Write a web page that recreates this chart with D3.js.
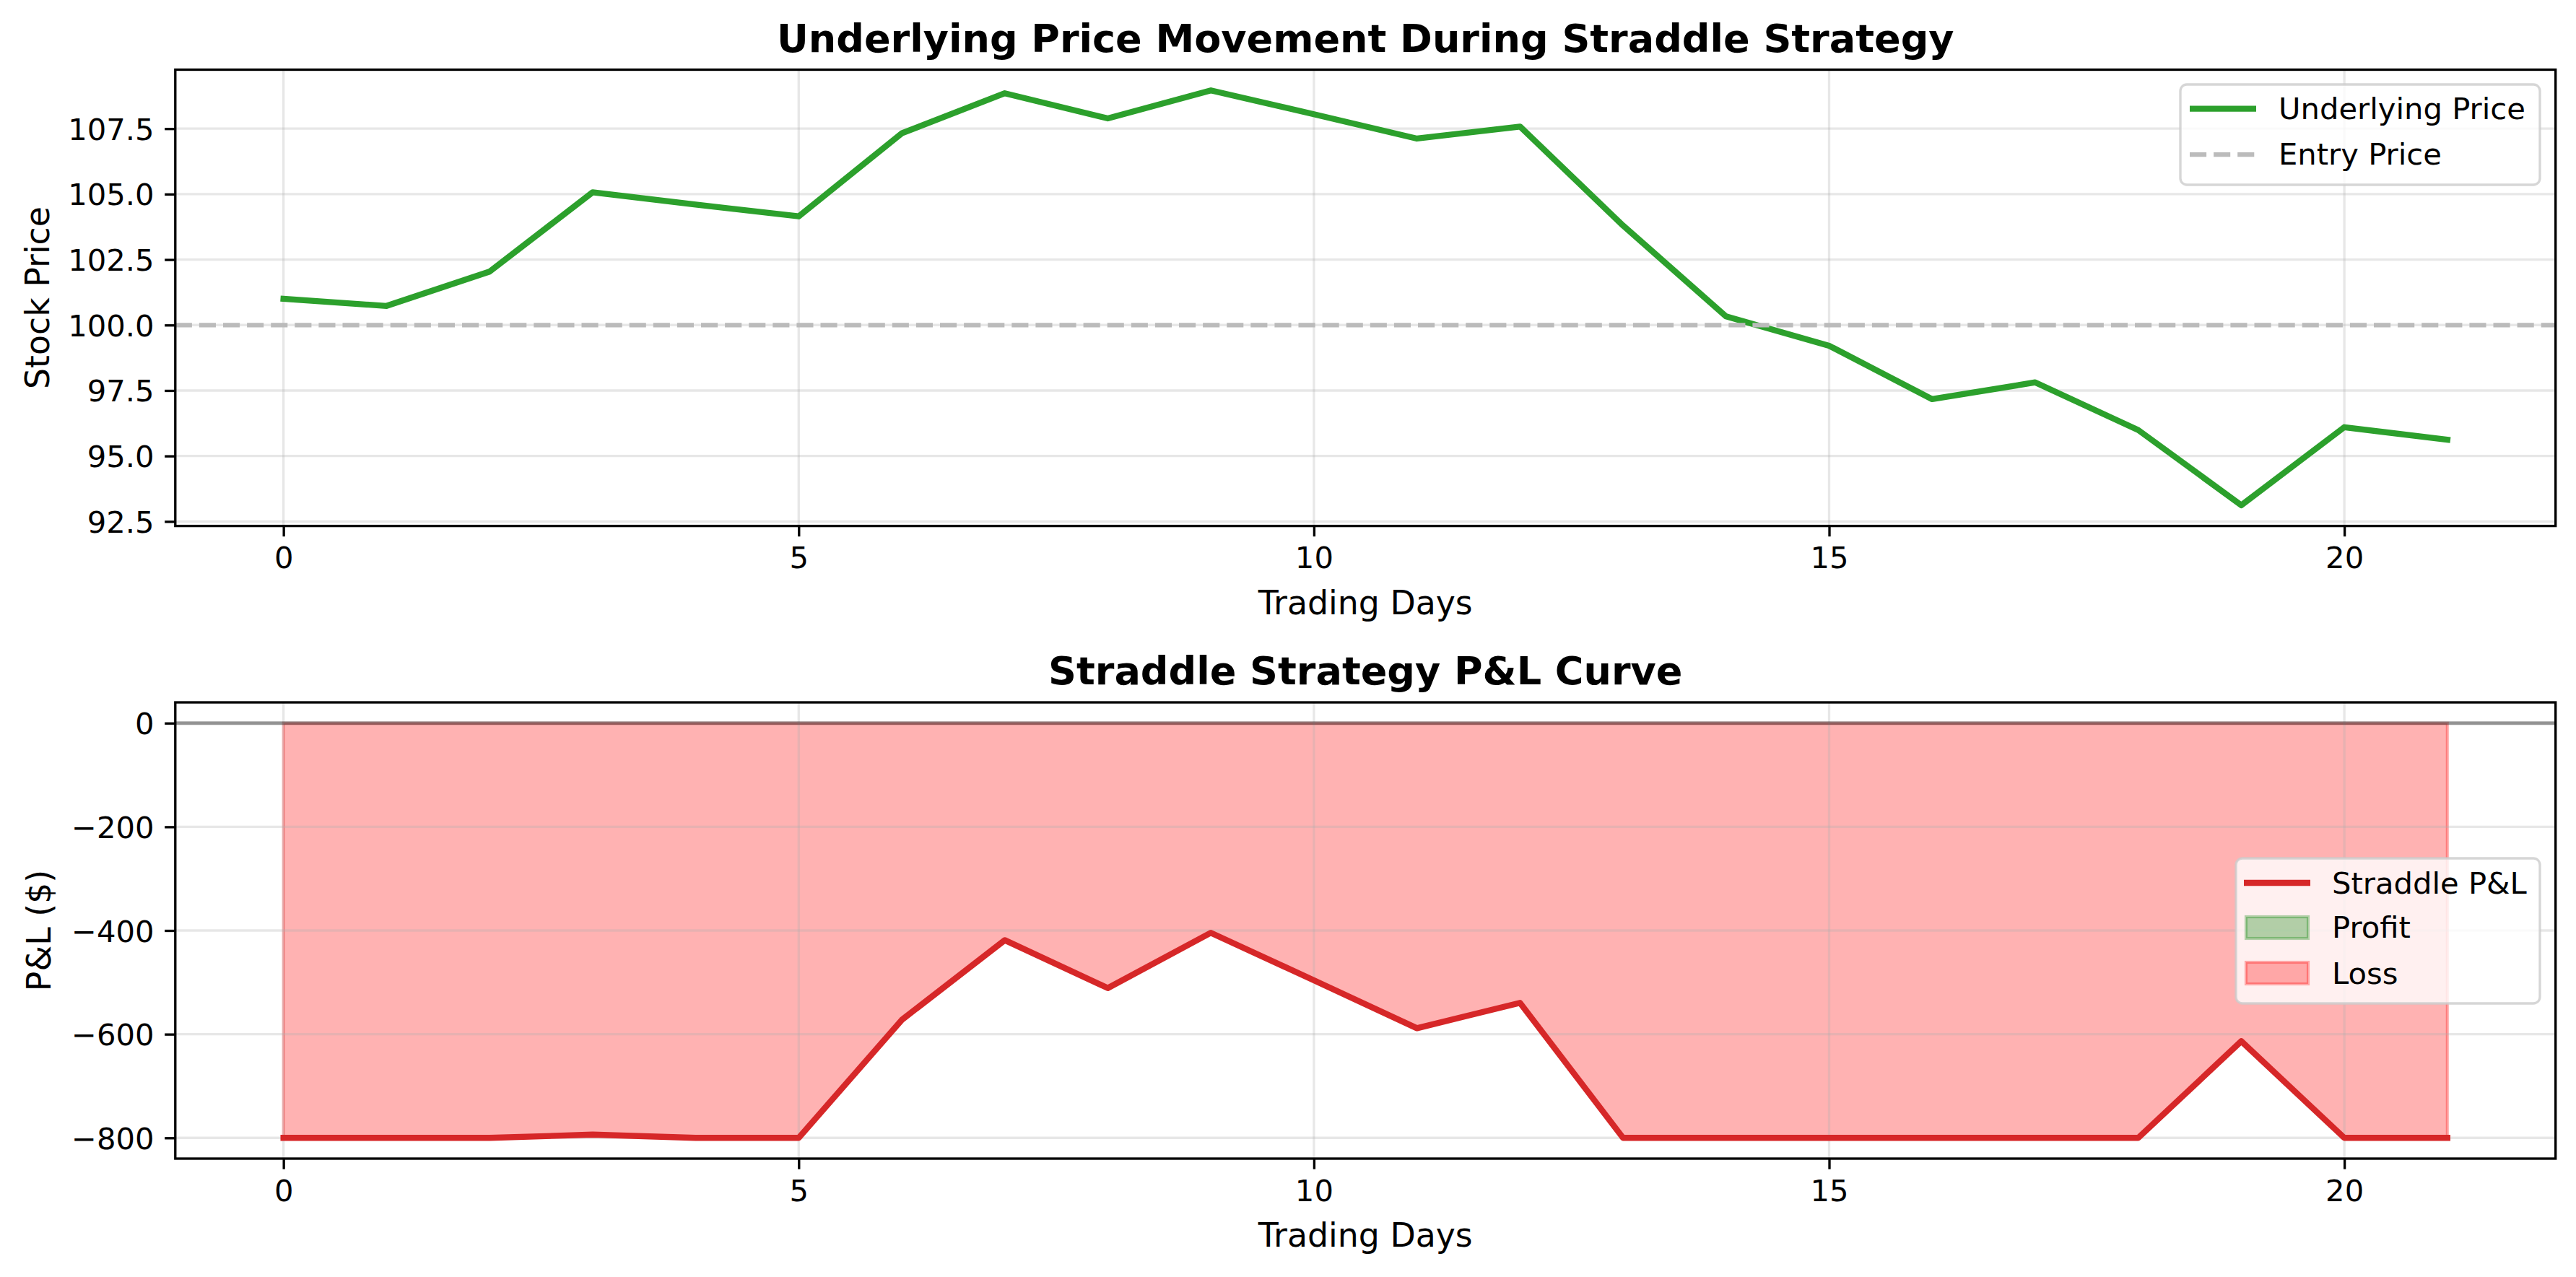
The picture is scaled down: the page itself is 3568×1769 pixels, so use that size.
<!DOCTYPE html>
<html><head><meta charset="utf-8">
<script src="https://cdn.jsdelivr.net/npm/d3@7"></script>
<style>
body{margin:0;background:#fff}
svg{display:block}
text{font-family:"DejaVu Sans",sans-serif;fill:#000}
</style>
</head><body>
<svg id="chart" width="3568" height="1769"></svg>
<script>
// ---- data ----
const days = [0,1,2,3,4,5,6,7,8,9,10,11,12,13,14,15,16,17,18,19,20,21];
const price = [101.0,100.73,102.04,105.07,104.6,104.15,107.32,108.85,107.89,108.96,108.05,107.12,107.58,103.80,100.33,99.21,97.17,97.81,95.99,93.12,96.10,95.62];
const pnl = [-800,-800,-800,-793.7,-800,-800,-572.5,-418.6,-511,-404.4,-496,-588.5,-539.5,-800,-800,-800,-800,-800,-800,-613.6,-800,-800];
const entryPrice = 100;
const dayTicks = [0,5,10,15,20];
const priceTicks = [92.5,95.0,97.5,100.0,102.5,105.0,107.5];
const pnlTicks = [-800,-600,-400,-200,0];
const titles = ["Underlying Price Movement During Straddle Strategy","Straddle Strategy P&L Curve"];
const xLabel = "Trading Days";
const yLabels = ["Stock Price","P&L ($)"];
const legend1 = ["Underlying Price","Entry Price"];
const legend2 = ["Straddle P&L","Profit","Loss"];

// ---- styles / layout ----
const GREEN = "#2ca02c", RED = "#d62728";
const LW = 8.33, SPINE = 3.33, TICKLEN = 14.6, PAD = 14.6;
const TICKFS = 41.7, LABFS = 45.8, TITLEFS = 54;
const left = 242.8, right = 3539.7;
const top1 = 96.5, bot1 = 728.6;
const top2 = 973, bot2 = 1605;

const svg = d3.select("#chart");

function pad(lo, hi){ const m=(hi-lo)*0.05; return [lo-m, hi+m]; }

const x = d3.scaleLinear().domain(pad(d3.min(days), d3.max(days))).range([left, right]);
const y1 = d3.scaleLinear().domain(pad(d3.min(price), d3.max(price))).range([bot1, top1]);
const y2 = d3.scaleLinear().domain(pad(Math.min(0,d3.min(pnl)), Math.max(0,d3.max(pnl)))).range([bot2, top2]);

function grid(g, yScale, yTicks, top, bot){
  const gg = g.append("g");
  gg.selectAll(".gx").data(dayTicks).enter().append("line")
    .attr("x1", d=>x(d)).attr("x2", d=>x(d)).attr("y1", top).attr("y2", bot)
    .attr("stroke","#b0b0b0").attr("stroke-opacity",0.3).attr("stroke-width",3.33);
  gg.selectAll(".gy").data(yTicks).enter().append("line")
    .attr("x1", left).attr("x2", right).attr("y1", d=>yScale(d)).attr("y2", d=>yScale(d))
    .attr("stroke","#b0b0b0").attr("stroke-opacity",0.3).attr("stroke-width",3.33);
}

function axes(g, yScale, yTicks, yFmt, top, bot, title, ylab, ylabX){
  g.append("rect").attr("x",left).attr("y",top).attr("width",right-left).attr("height",bot-top)
    .attr("fill","none").attr("stroke","#000").attr("stroke-width",SPINE);
  const xa = g.append("g").attr("transform",`translate(0,${bot})`)
    .call(d3.axisBottom(x).tickValues(dayTicks).tickFormat(d3.format("d")).tickSize(TICKLEN).tickSizeOuter(0).tickPadding(PAD));
  const ya = g.append("g").attr("transform",`translate(${left},0)`)
    .call(d3.axisLeft(yScale).tickValues(yTicks).tickFormat(yFmt).tickSize(TICKLEN).tickSizeOuter(0).tickPadding(PAD));
  [xa,ya].forEach(a=>{
    a.select(".domain").remove();
    a.selectAll("line").attr("stroke","#000").attr("stroke-width",SPINE);
    a.selectAll("text").attr("font-size",TICKFS).attr("font-family","DejaVu Sans").attr("fill","#000");
  });
  xa.selectAll("text").attr("dy","0.71em");
  ya.selectAll("text").attr("dy","0.36em");
  g.append("text").attr("x",(left+right)/2).attr("y",top-25).attr("text-anchor","middle")
    .attr("font-size",TITLEFS).attr("font-weight","bold").text(title);
  g.append("text").attr("x",(left+right)/2).attr("y",bot+122).attr("text-anchor","middle")
    .attr("font-size",LABFS).text(xLabel);
  g.append("text").attr("transform",`translate(${ylabX},${(top+bot)/2}) rotate(-90)`)
    .attr("text-anchor","middle").attr("font-size",LABFS).text(ylab);
}

function legendBox(g, x0, y0, w, h){
  g.append("rect").attr("x",x0).attr("y",y0).attr("width",w).attr("height",h).attr("rx",9).attr("ry",9)
    .attr("fill","#fff").attr("fill-opacity",0.8).attr("stroke","#cccccc").attr("stroke-opacity",0.8).attr("stroke-width",3.33);
}

// ---- panel 1 ----
const g1 = svg.append("g");
grid(g1, y1, priceTicks, top1, bot1);
const line1 = d3.line().x((d,i)=>x(days[i])).y(d=>y1(d));
g1.append("path").datum(price).attr("d",line1).attr("fill","none").attr("stroke",GREEN)
  .attr("stroke-width",LW).attr("stroke-linejoin","round").attr("stroke-linecap","square");
g1.append("line").attr("x1",left).attr("x2",right).attr("y1",y1(entryPrice)).attr("y2",y1(entryPrice))
  .attr("stroke","#bbbbbb").attr("stroke-width",6.25).attr("stroke-dasharray","23.1,10");
axes(g1, y1, priceTicks, d3.format(".1f"), top1, bot1, titles[0], yLabels[0], 68);

// legend 1
legendBox(g1, 3020, 117, 498, 139);
g1.append("line").attr("x1",3033).attr("x2",3125).attr("y1",150.6).attr("y2",150.6).attr("stroke",GREEN).attr("stroke-width",LW);
g1.append("line").attr("x1",3033).attr("x2",3125).attr("y1",214).attr("y2",214).attr("stroke","#bbbbbb").attr("stroke-width",6.25).attr("stroke-dasharray","23.1,10");
g1.append("text").attr("x",3156).attr("y",165).attr("font-size",TICKFS).text(legend1[0]);
g1.append("text").attr("x",3156).attr("y",227.7).attr("font-size",TICKFS).text(legend1[1]);

// ---- panel 2 ----
const g2 = svg.append("g");
const area = d3.area().x((d,i)=>x(days[i])).y0(y2(0)).y1(d=>y2(d));
g2.append("path").datum(pnl).attr("d",area).attr("fill","red").attr("fill-opacity",0.3)
  .attr("stroke","red").attr("stroke-opacity",0.3).attr("stroke-width",4.17);
grid(g2, y2, pnlTicks, top2, bot2);
const line2 = d3.line().x((d,i)=>x(days[i])).y(d=>y2(d));
g2.append("path").datum(pnl).attr("d",line2).attr("fill","none").attr("stroke",RED)
  .attr("stroke-width",LW).attr("stroke-linejoin","round").attr("stroke-linecap","square");
g2.append("line").attr("x1",left).attr("x2",right).attr("y1",y2(0)).attr("y2",y2(0))
  .attr("stroke","#000").attr("stroke-opacity",0.36).attr("stroke-width",5.2);
axes(g2, y2, pnlTicks, d3.format("d"), top2, bot2, titles[1], yLabels[1], 70);

// legend 2
legendBox(g2, 3097, 1189, 421, 201);
g2.append("line").attr("x1",3108).attr("x2",3200).attr("y1",1223).attr("y2",1223).attr("stroke",RED).attr("stroke-width",LW);
g2.append("rect").attr("x",3111).attr("y",1270).attr("width",86).attr("height",30)
  .attr("fill","green").attr("fill-opacity",0.3).attr("stroke","green").attr("stroke-opacity",0.3).attr("stroke-width",4.17);
g2.append("rect").attr("x",3111).attr("y",1333).attr("width",86).attr("height",30)
  .attr("fill","red").attr("fill-opacity",0.3).attr("stroke","red").attr("stroke-opacity",0.3).attr("stroke-width",4.17);
g2.append("text").attr("x",3230).attr("y",1237.7).attr("font-size",TICKFS).text(legend2[0]);
g2.append("text").attr("x",3230).attr("y",1299).attr("font-size",TICKFS).text(legend2[1]);
g2.append("text").attr("x",3230).attr("y",1362.6).attr("font-size",TICKFS).text(legend2[2]);
</script>
</body></html>
